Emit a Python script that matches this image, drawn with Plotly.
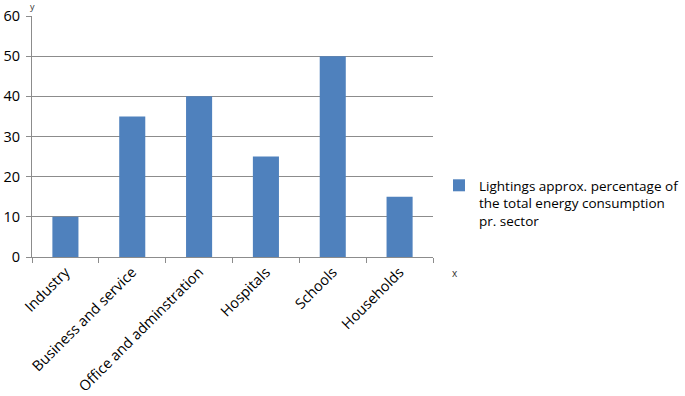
import plotly.graph_objects as go

categories = ["Industry", "Business and service", "Office and adminstration",
              "Hospitals", "Schools", "Households"]
values = [10, 35, 40, 25, 50, 15]
series_name = "Lightings approx. percentage of<br>the total energy consumption<br>pr. sector"
y_ticks = [0, 10, 20, 30, 40, 50, 60]

fig = go.Figure()
fig.add_trace(go.Bar(
    x=categories, y=values, name=series_name,
    marker=dict(color="#4F81BD", line=dict(width=0)),
    width=0.39, showlegend=True,
))

font_family = "Open Sans, Liberation Sans, sans-serif"
grid_col = "#8C8C8C"

fig.update_layout(
    width=685, height=396,
    margin=dict(l=32, r=252, t=16, b=139, autoexpand=False),
    plot_bgcolor="white", paper_bgcolor="white",
    font=dict(family=font_family, size=13, color="black"),
    showlegend=True,
    legend=dict(x=1.015, y=0.224, xanchor="left", yanchor="middle", valign="top",
                font=dict(size=13.5, color="black"),
                itemsizing="constant", bgcolor="rgba(0,0,0,0)"),
    xaxis=dict(
        type="category", tickangle=-45, automargin=False,
        ticks="outside", ticklen=5, tickcolor=grid_col, tickson="boundaries",
        showline=True, linecolor=grid_col, linewidth=1,
        showgrid=False, tickfont=dict(size=14.5, color="black"),
    ),
    yaxis=dict(
        range=[0, 60], tickvals=y_ticks, automargin=False,
        ticks="outside", ticklen=5, tickcolor=grid_col, ticklabelstandoff=3,
        showline=True, linecolor=grid_col, linewidth=1,
        showgrid=True, gridcolor=grid_col, gridwidth=1,
        zeroline=False, tickfont=dict(size=14.5, color="black"),
    ),
    annotations=[
        dict(text="y", x=0, y=1.0, xref="paper", yref="paper",
             xanchor="center", yanchor="middle", yshift=10, showarrow=False,
             font=dict(size=9, color="#333333")),
        dict(text="x", x=1.055, y=-0.066, xref="paper", yref="paper",
             xanchor="center", yanchor="middle", showarrow=False,
             font=dict(size=10, color="#333333")),
    ],
)

fig.write_html("out.html", config={"displayModeBar": False},
               post_script="document.body.style.margin='0px';document.body.style.padding='0px';")
